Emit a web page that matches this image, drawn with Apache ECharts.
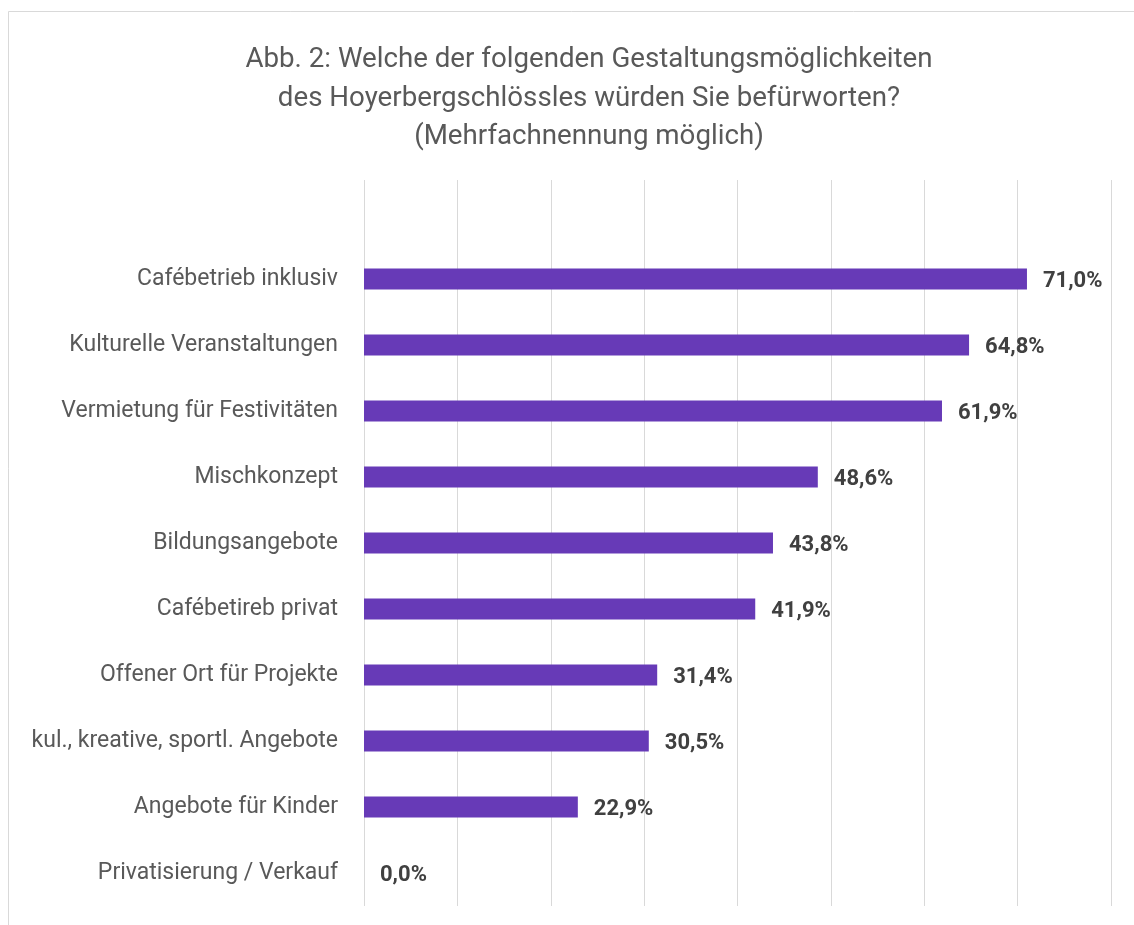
<!DOCTYPE html>
<html>
<head>
<meta charset="utf-8">
<script src="https://cdn.jsdelivr.net/npm/echarts@6/dist/echarts.min.js"></script>
<style>
html,body{margin:0;padding:0;background:#fff;}
#chart{width:1134px;height:925px;}
</style>
</head>
<body>
<div id="chart"></div>
<script>
const titleLines = [
  'Abb. 2: Welche der folgenden Gestaltungsmöglichkeiten',
  'des Hoyerbergschlössles würden Sie befürworten?',
  '(Mehrfachnennung möglich)'
];
const categories = [
  'Cafébetrieb inklusiv',
  'Kulturelle Veranstaltungen',
  'Vermietung für Festivitäten',
  'Mischkonzept',
  'Bildungsangebote',
  'Cafébetireb privat',
  'Offener Ort für Projekte',
  'kul., kreative, sportl. Angebote',
  'Angebote für Kinder',
  'Privatisierung / Verkauf'
];
const values = [71.0, 64.8, 61.9, 48.6, 43.8, 41.9, 31.4, 30.5, 22.9, 0.0];
const axisMin = 0, axisMax = 80, axisStep = 10;

const FONT = 'Roboto, "Noto Sans", sans-serif';
const chart = echarts.init(document.getElementById('chart'));
chart.setOption({
  animation: false,
  backgroundColor: '#ffffff',
  graphic: [{
    type: 'rect',
    shape: {x: 8.5, y: 11.5, width: 1200, height: 1000},
    style: {fill: 'none', stroke: '#d9d9d9', lineWidth: 1},
    silent: true
  }],
  title: {
    text: titleLines.join('\n'),
    left: 584,
    textAlign: 'center',
    top: 36,
    textStyle: {
      fontFamily: FONT,
      fontWeight: 'normal',
      fontSize: 27.7,
      lineHeight: 38.5,
      color: '#595959'
    }
  },
  grid: {left: 364, right: 23, top: 180, bottom: 19, containLabel: false},
  xAxis: {
    type: 'value',
    min: axisMin, max: axisMax, interval: axisStep,
    axisLabel: {show: false},
    axisLine: {show: false},
    axisTick: {show: false},
    splitLine: {show: true, lineStyle: {color: '#d9d9d9', width: 1}}
  },
  yAxis: {
    type: 'category',
    inverse: true,
    data: [''].concat(categories),
    axisLine: {show: false},
    axisTick: {show: false},
    axisLabel: {
      margin: 26,
      fontFamily: FONT,
      fontSize: 23,
      color: '#595959'
    }
  },
  series: [{
    type: 'bar',
    data: [null].concat(values),
    barWidth: 21,
    itemStyle: {color: '#673ab7'},
    label: {
      show: true,
      position: 'right',
      distance: 16,
      offset: [0, 2],
      fontFamily: FONT,
      fontWeight: 'bold',
      fontSize: 22,
      color: '#404040',
      formatter: p => p.value == null ? '' : p.value.toFixed(1).replace('.', ',') + '%'
    }
  }]
});
</script>
</body>
</html>
